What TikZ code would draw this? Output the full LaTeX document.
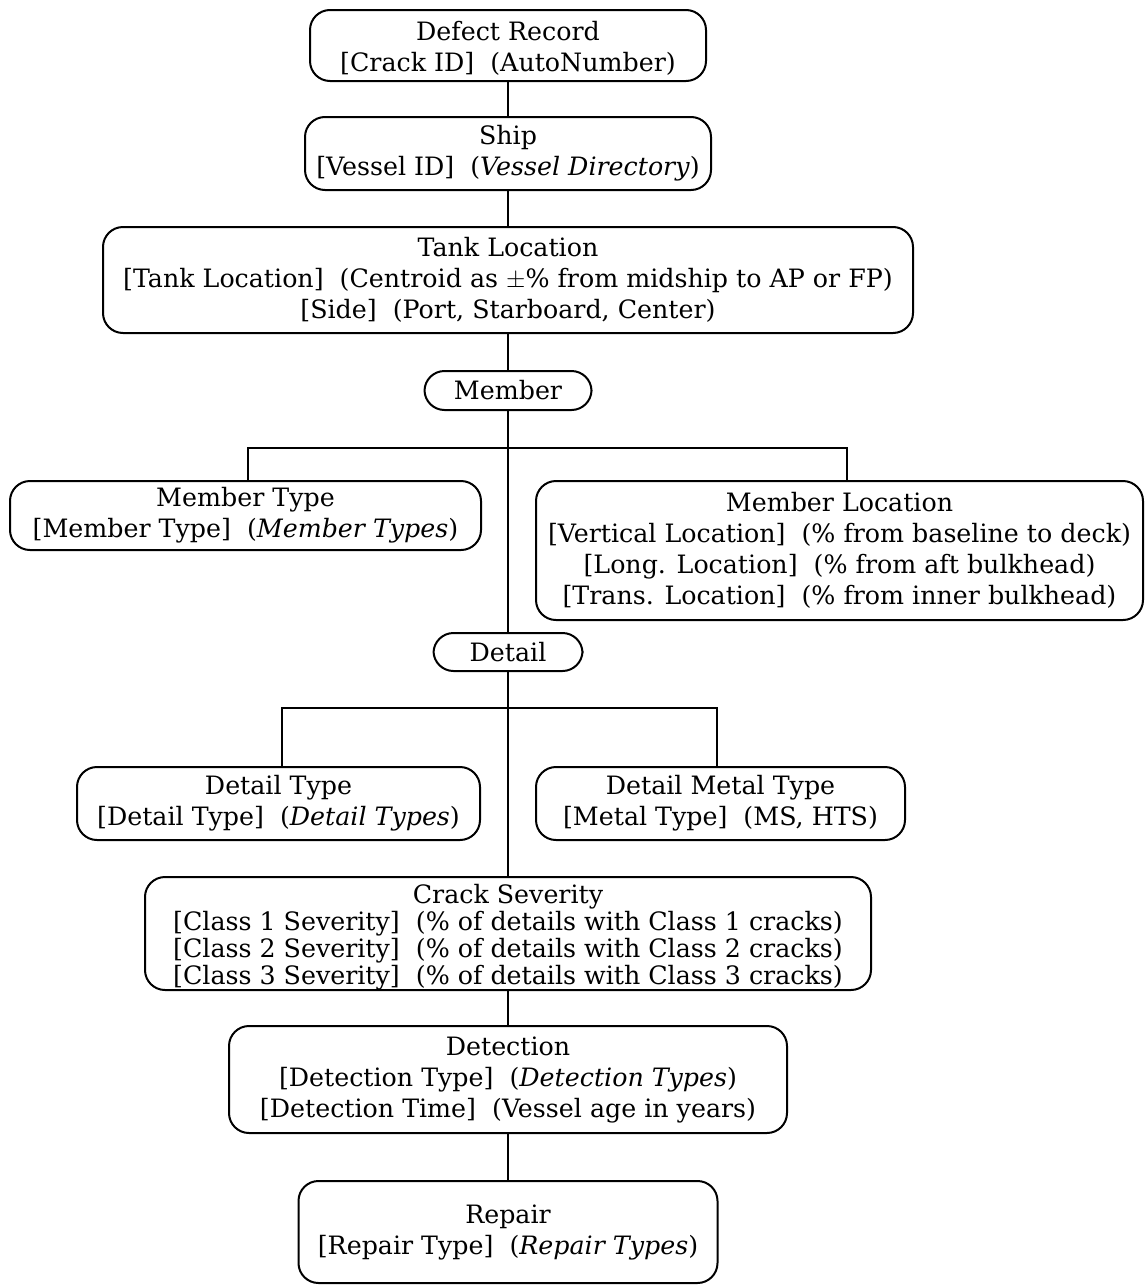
\documentclass[tikz,border=0pt]{standalone}
\usepackage{fontspec}
\setmainfont{DejaVu Serif}
\newcommand{\fld}[1]{{[}#1{]}}
\begin{document}
\begin{tikzpicture}[x=1pt,y=-1pt,
  box/.style={draw, line width=2pt, rounded corners=20pt, align=center,
    inner sep=0pt, font=\fontsize{25.3}{31}\selectfont},
  link/.style={line width=1.8pt}]
\useasboundingbox (0,0) rectangle (1145,1285);
% main column
\node[box, minimum width=396, minimum height=71] (rec) at (508,45.5)
  {\rule{0pt}{24pt}Defect Record\\\fld{Crack ID}~~(AutoNumber)};
\node[box, minimum width=406, minimum height=73] (ship) at (508,153.5)
  {Ship\\\fld{Vessel ID}~~(\textit{Vessel Directory})};
\node[box, minimum width=810, minimum height=106] (tank) at (508,280)
  {Tank Location\\\fld{Tank Location}~~(Centroid as $\pm$\% from midship to AP or FP)\\\fld{Side}~~(Port, Starboard, Center)};
\node[box, minimum width=167, minimum height=39] (mem) at (508,390.5) {Member};
% member branches
\node[box, minimum width=471, minimum height=69] (mtype) at (245.5,515.5)
  {Member Type\\\fld{Member Type}~~(\textit{Member Types})};
\node[box, minimum width=607, minimum height=139] (mloc) at (839.5,550.5)
  {Member Location\\\fld{Vertical Location}~~(\% from baseline to deck)\\\fld{Long. Location}~~(\% from aft bulkhead)\\\fld{Trans. Location}~~(\% from inner bulkhead)};
\node[box, minimum width=149, minimum height=38] (det) at (508,652) {Detail};
% detail branches
\node[box, minimum width=403, minimum height=73] (dtype) at (278.5,803.5)
  {Detail Type\\\fld{Detail Type}~~(\textit{Detail Types})};
\node[box, minimum width=369, minimum height=73] (dmetal) at (720.5,803.5)
  {Detail Metal Type\\\fld{Metal Type}~~(MS, HTS)};
\node[box, minimum width=726, minimum height=113, font=\fontsize{25.3}{27}\selectfont] (sev) at (508,933.5)
  {\rule{0pt}{26pt}Crack Severity\\\fld{Class 1 Severity}~~(\% of details with Class 1 cracks)\\\fld{Class 2 Severity}~~(\% of details with Class 2 cracks)\\\fld{Class 3 Severity}~~(\% of details with Class 3 cracks)};
\node[box, minimum width=558, minimum height=107] (dtc) at (508,1079.5)
  {Detection\\\fld{Detection Type}~~(\textit{Detection Types})\\\fld{Detection Time}~~(Vessel age in years)};
\node[box, minimum width=419, minimum height=102] (rep) at (508,1232)
  {Repair\\\fld{Repair Type}~~(\textit{Repair Types})};
% junctions of the branch lines
\coordinate (bm) at (508,448);
\coordinate (bd) at (508,708);
% connectors
\draw[link] (rec.south) -- (ship.north);
\draw[link] (ship.south) -- (tank.north);
\draw[link] (tank.south) -- (mem.north);
\draw[link] (mem.south) -- (det.north);
\draw[link] ([xshift=2.5pt]mtype.north) -- ([xshift=2.5pt]mtype.north |- bm)
  -- ([xshift=7.5pt]mloc.north |- bm) -- ([xshift=7.5pt]mloc.north);
\draw[link] (det.south) -- (sev.north);
\draw[link] ([xshift=3.5pt]dtype.north) -- ([xshift=3.5pt]dtype.north |- bd)
  -- ([xshift=-3.5pt]dmetal.north |- bd) -- ([xshift=-3.5pt]dmetal.north);
\draw[link] (sev.south) -- (dtc.north);
\draw[link] (dtc.south) -- (rep.north);
\end{tikzpicture}
\end{document}
